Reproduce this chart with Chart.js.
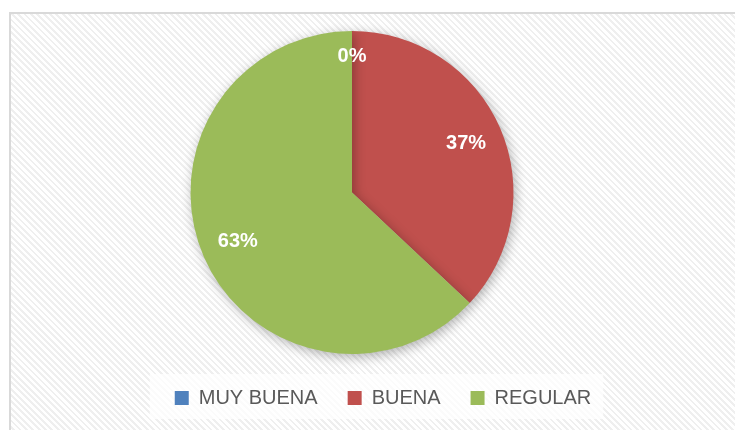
<!DOCTYPE html>
<html>
<head>
<meta charset="utf-8">
<script src="https://cdn.jsdelivr.net/npm/chart.js@4/dist/chart.umd.min.js"></script>
<style>
  html, body { margin: 0; padding: 0; background: #fff; width: 735px; height: 430px; overflow: hidden; }
  .frame {
    position: absolute; left: 9px; top: 12px; width: 760px; height: 460px;
    border: 2px solid #d9d9d9; box-sizing: border-box;
    background: repeating-linear-gradient(45deg, #ffffff 0px, #ffffff 2.5px, #efefef 2.5px, #efefef 4.5px);
  }
  .wrap { position: absolute; left: 0; top: 0; width: 735px; height: 430px; }
</style>
</head>
<body>
<div class="frame"></div>
<div class="wrap"><canvas id="pie" width="735" height="430"></canvas></div>
<script>
// datos
const categorias = ['MUY BUENA', 'BUENA', 'REGULAR'];
const porcentajes = [0, 37, 63];
const colores = ['#4f81bd', '#c0504d', '#9bbb59'];

// sombra suave alrededor del pastel
const sombraPlugin = {
  id: 'sombra',
  beforeDatasetsDraw(chart) {
    const ctx = chart.ctx;
    ctx.save();
    ctx.shadowColor = 'rgba(0,0,0,0.3)';
    ctx.shadowBlur = 12;
    ctx.shadowOffsetX = 2;
    ctx.shadowOffsetY = 3;
  },
  afterDatasetsDraw(chart) {
    chart.ctx.restore();
  }
};

// la leyenda en el original esta corrida a la derecha del centro del pastel
const moverLeyenda = {
  id: 'moverLeyenda',
  afterLayout(chart) {
    chart.legend.left += 31;
    chart.legend.right += 31;
    chart.legend.top += 4;
    chart.legend.bottom += 4;
  }
};

// caja blanca detras de la leyenda
const cajaLeyenda = {
  id: 'cajaLeyenda',
  beforeDraw(chart) {
    const boxes = chart.legend.legendHitBoxes;
    if (!boxes || !boxes.length) return;
    const first = boxes[0], last = boxes[boxes.length - 1];
    const ctx = chart.ctx;
    ctx.save();
    ctx.fillStyle = 'rgba(255,255,255,0.75)';
    ctx.fillRect(first.left - 25, first.top - 14, (last.left + last.width) - first.left + 37, 45);
    ctx.restore();
  }
};

// etiquetas de porcentaje dentro de cada porcion
const etiquetas = {
  id: 'etiquetas',
  afterDatasetsDraw(chart) {
    const ctx = chart.ctx;
    const meta = chart.getDatasetMeta(0);
    ctx.save();
    ctx.fillStyle = '#ffffff';
    ctx.font = 'bold 20px "Liberation Sans", Arial, sans-serif';
    ctx.textAlign = 'center';
    ctx.textBaseline = 'middle';
    meta.data.forEach((arc, i) => {
      const mid = (arc.startAngle + arc.endAngle) / 2;
      const f = porcentajes[i] === 0 ? 0.84 : 0.77;
      const r = arc.outerRadius * f;
      ctx.fillText(porcentajes[i] + '%', arc.x + Math.cos(mid) * r, arc.y + Math.sin(mid) * r);
    });
    ctx.restore();
  }
};

new Chart(document.getElementById('pie'), {
  type: 'pie',
  data: {
    labels: categorias,
    datasets: [{
      data: porcentajes,
      backgroundColor: colores,
      borderColor: '#ffffff',
      borderWidth: 0
    }]
  },
  options: {
    responsive: false,
    animation: false,
    layout: { padding: { top: 31, left: 0, right: 31, bottom: 16 } },
    plugins: {
      tooltip: { enabled: false },
      legend: {
        position: 'bottom',
        labels: {
          boxWidth: 14,
          boxHeight: 14,
          padding: 30,
          color: '#595959',
          font: { size: 20, family: '"Liberation Sans", Arial, sans-serif' }
        }
      }
    }
  },
  plugins: [moverLeyenda, cajaLeyenda, sombraPlugin, etiquetas]
});
</script>
</body>
</html>
